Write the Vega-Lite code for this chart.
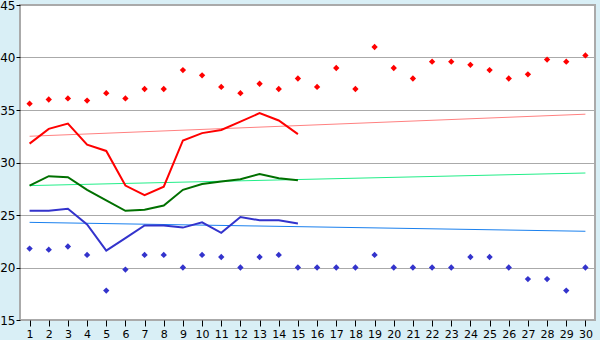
{
  "$schema": "https://vega.github.io/schema/vega-lite/v6.json",
  "width": 575,
  "height": 315,
  "autosize": {"type": "none"},
  "padding": {"left": 20, "top": 5, "right": 5, "bottom": 20},
  "background": "#d9eff6",
  "view": {"fill": "white", "stroke": "#aaaaaa", "strokeWidth": 2},
  "config": {
    "font": "DejaVu Sans",
    "axis": {"labelFont": "DejaVu Sans", "labelColor": "#000000", "labelFontSize": 11, "domainColor": "#aaaaaa", "tickColor": "#000000", "gridColor": "#aaaaaa", "gridWidth": 1, "title": null}
  },
  "datasets": {
    "pts": [
      {"day": 1, "v": 35.6, "s": "max"}, {"day": 2, "v": 36.0, "s": "max"}, {"day": 3, "v": 36.1, "s": "max"}, {"day": 4, "v": 35.9, "s": "max"}, {"day": 5, "v": 36.6, "s": "max"},
      {"day": 6, "v": 36.1, "s": "max"}, {"day": 7, "v": 37.0, "s": "max"}, {"day": 8, "v": 37.0, "s": "max"}, {"day": 9, "v": 38.8, "s": "max"}, {"day": 10, "v": 38.3, "s": "max"},
      {"day": 11, "v": 37.2, "s": "max"}, {"day": 12, "v": 36.6, "s": "max"}, {"day": 13, "v": 37.5, "s": "max"}, {"day": 14, "v": 37.0, "s": "max"}, {"day": 15, "v": 38.0, "s": "max"},
      {"day": 16, "v": 37.2, "s": "max"}, {"day": 17, "v": 39.0, "s": "max"}, {"day": 18, "v": 37.0, "s": "max"}, {"day": 19, "v": 41.0, "s": "max"}, {"day": 20, "v": 39.0, "s": "max"},
      {"day": 21, "v": 38.0, "s": "max"}, {"day": 22, "v": 39.6, "s": "max"}, {"day": 23, "v": 39.6, "s": "max"}, {"day": 24, "v": 39.3, "s": "max"}, {"day": 25, "v": 38.8, "s": "max"},
      {"day": 26, "v": 38.0, "s": "max"}, {"day": 27, "v": 38.4, "s": "max"}, {"day": 28, "v": 39.8, "s": "max"}, {"day": 29, "v": 39.6, "s": "max"}, {"day": 30, "v": 40.2, "s": "max"},
      {"day": 1, "v": 21.8, "s": "min"}, {"day": 2, "v": 21.7, "s": "min"}, {"day": 3, "v": 22.0, "s": "min"}, {"day": 4, "v": 21.2, "s": "min"}, {"day": 5, "v": 17.8, "s": "min"},
      {"day": 6, "v": 19.8, "s": "min"}, {"day": 7, "v": 21.2, "s": "min"}, {"day": 8, "v": 21.2, "s": "min"}, {"day": 9, "v": 20.0, "s": "min"}, {"day": 10, "v": 21.2, "s": "min"},
      {"day": 11, "v": 21.0, "s": "min"}, {"day": 12, "v": 20.0, "s": "min"}, {"day": 13, "v": 21.0, "s": "min"}, {"day": 14, "v": 21.2, "s": "min"}, {"day": 15, "v": 20.0, "s": "min"},
      {"day": 16, "v": 20.0, "s": "min"}, {"day": 17, "v": 20.0, "s": "min"}, {"day": 18, "v": 20.0, "s": "min"}, {"day": 19, "v": 21.2, "s": "min"}, {"day": 20, "v": 20.0, "s": "min"},
      {"day": 21, "v": 20.0, "s": "min"}, {"day": 22, "v": 20.0, "s": "min"}, {"day": 23, "v": 20.0, "s": "min"}, {"day": 24, "v": 21.0, "s": "min"}, {"day": 25, "v": 21.0, "s": "min"},
      {"day": 26, "v": 20.0, "s": "min"}, {"day": 27, "v": 18.9, "s": "min"}, {"day": 28, "v": 18.9, "s": "min"}, {"day": 29, "v": 17.8, "s": "min"}, {"day": 30, "v": 20.0, "s": "min"}
    ],
    "lines": [
      {"day": 1, "v": 31.8, "s": "hi"}, {"day": 2, "v": 33.2, "s": "hi"}, {"day": 3, "v": 33.7, "s": "hi"}, {"day": 4, "v": 31.7, "s": "hi"}, {"day": 5, "v": 31.1, "s": "hi"},
      {"day": 6, "v": 27.8, "s": "hi"}, {"day": 7, "v": 26.9, "s": "hi"}, {"day": 8, "v": 27.7, "s": "hi"}, {"day": 9, "v": 32.1, "s": "hi"}, {"day": 10, "v": 32.8, "s": "hi"},
      {"day": 11, "v": 33.1, "s": "hi"}, {"day": 12, "v": 33.9, "s": "hi"}, {"day": 13, "v": 34.7, "s": "hi"}, {"day": 14, "v": 34.0, "s": "hi"}, {"day": 15, "v": 32.7, "s": "hi"},
      {"day": 1, "v": 27.8, "s": "mid"}, {"day": 2, "v": 28.7, "s": "mid"}, {"day": 3, "v": 28.6, "s": "mid"}, {"day": 4, "v": 27.4, "s": "mid"}, {"day": 5, "v": 26.4, "s": "mid"},
      {"day": 6, "v": 25.4, "s": "mid"}, {"day": 7, "v": 25.5, "s": "mid"}, {"day": 8, "v": 25.9, "s": "mid"}, {"day": 9, "v": 27.4, "s": "mid"}, {"day": 10, "v": 27.95, "s": "mid"},
      {"day": 11, "v": 28.2, "s": "mid"}, {"day": 12, "v": 28.4, "s": "mid"}, {"day": 13, "v": 28.9, "s": "mid"}, {"day": 14, "v": 28.5, "s": "mid"}, {"day": 15, "v": 28.3, "s": "mid"},
      {"day": 1, "v": 25.4, "s": "lo"}, {"day": 2, "v": 25.4, "s": "lo"}, {"day": 3, "v": 25.6, "s": "lo"}, {"day": 4, "v": 24.1, "s": "lo"}, {"day": 5, "v": 21.6, "s": "lo"},
      {"day": 6, "v": 22.8, "s": "lo"}, {"day": 7, "v": 24.0, "s": "lo"}, {"day": 8, "v": 24.0, "s": "lo"}, {"day": 9, "v": 23.8, "s": "lo"}, {"day": 10, "v": 24.3, "s": "lo"},
      {"day": 11, "v": 23.3, "s": "lo"}, {"day": 12, "v": 24.8, "s": "lo"}, {"day": 13, "v": 24.5, "s": "lo"}, {"day": 14, "v": 24.5, "s": "lo"}, {"day": 15, "v": 24.2, "s": "lo"}
    ],
    "trends": [
      {"day": 1, "v": 32.5, "s": "hiT"}, {"day": 30, "v": 34.6, "s": "hiT"},
      {"day": 1, "v": 27.8, "s": "midT"}, {"day": 30, "v": 29.0, "s": "midT"},
      {"day": 1, "v": 24.3, "s": "loT"}, {"day": 30, "v": 23.45, "s": "loT"}
    ]
  },
  "encoding": {
    "x": {"field": "day", "type": "quantitative", "scale": {"domain": [0.5, 30.5], "nice": false, "zero": false},
      "axis": {"values": [1,2,3,4,5,6,7,8,9,10,11,12,13,14,15,16,17,18,19,20,21,22,23,24,25,26,27,28,29,30], "grid": false, "domain": false, "tickSize": 6, "labelPadding": 2, "labelFlush": false, "labelOverlap": false}},
    "y": {"field": "v", "type": "quantitative", "scale": {"domain": [15, 45], "nice": false, "zero": false},
      "axis": {"values": [15, 20, 25, 30, 35, 40, 45], "grid": true, "domain": false, "tickSize": 4, "labelPadding": 1, "labelFontSize": 12, "labelFlush": false}}
  },
  "layer": [
    {"data": {"name": "trends"}, "mark": {"type": "line", "strokeWidth": 1, "interpolate": "linear"},
      "encoding": {"detail": {"field": "s"}, "color": {"field": "s", "type": "nominal", "scale": {"domain": ["hiT", "midT", "loT"], "range": ["#ff8080", "#22ee88", "#1a80ee"]}, "legend": null}}},
    {"data": {"name": "lines"}, "mark": {"type": "line", "strokeWidth": 2},
      "encoding": {"detail": {"field": "s"}, "color": {"field": "s", "type": "nominal", "scale": {"domain": ["hi", "mid", "lo"], "range": ["#ff0000", "#007000", "#3333cc"]}, "legend": null}}},
    {"data": {"name": "pts"}, "mark": {"type": "point", "shape": "diamond", "filled": true, "size": 40, "opacity": 1},
      "encoding": {"fill": {"field": "s", "type": "nominal", "scale": {"domain": ["max", "min"], "range": ["#ff0000", "#3333cc"]}, "legend": null}}}
  ],
  "resolve": {"scale": {"color": "independent"}}
}
